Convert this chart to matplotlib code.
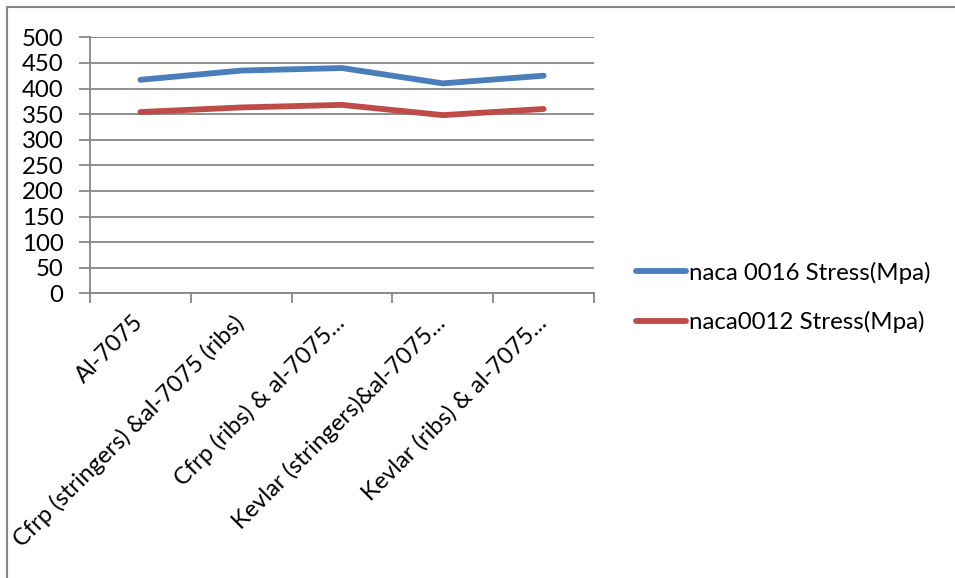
import matplotlib.pyplot as plt
from matplotlib.patches import Rectangle

# materiais e tensões (MPa)
materiais = ["Al-7075",
             "Cfrp (stringers) &al-7075 (ribs)",
             "Cfrp (ribs) & al-7075...",
             "Kevlar (stringers)&al-7075...",
             "Kevlar (ribs) & al-7075..."]
naca0016 = [417, 435, 440, 410, 425]
naca0012 = [354, 363, 368, 348, 360]

AZUL = "#4a7ebb"
VERMELHO = "#be4b48"
CINZA = "#868686"
FS = 17.3

plt.rcParams['font.family'] = ['Lato', 'DejaVu Sans']

fig = plt.figure(figsize=(9.55, 5.78), dpi=100)
W, H = 955, 578
ax = fig.add_axes([90 / W, 1 - 293.3 / H, 504 / W, 256 / H])

x = list(range(len(materiais)))
l1, = ax.plot(x, naca0016, color=AZUL, lw=4.2, solid_capstyle='round',
              label="naca 0016 Stress(Mpa)")
l2, = ax.plot(x, naca0012, color=VERMELHO, lw=4.2, solid_capstyle='round',
              label="naca0012 Stress(Mpa)")

ax.set_ylim(0, 500)
ax.set_xlim(-0.5, len(materiais) - 0.5)
ax.set_yticks(range(0, 501, 50))
ax.grid(axis='y', color=CINZA, lw=1.3)
ax.set_axisbelow(True)
for s in ['top', 'right']:
    ax.spines[s].set_visible(False)
for s in ['left', 'bottom']:
    ax.spines[s].set_color(CINZA)
    ax.spines[s].set_linewidth(1.3)
ax.tick_params(axis='y', length=8, width=1.3, color=CINZA, labelsize=FS, pad=11)

# ticks do eixo x nas divisas entre categorias
ax.set_xticks([i - 0.5 for i in range(len(materiais) + 1)])
ax.set_xticklabels([])
ax.tick_params(axis='x', length=7, width=1.3, color=CINZA)
for i, nome in enumerate(materiais):
    ax.annotate(nome, xy=(i, 0), xycoords=('data', 'axes fraction'),
                xytext=(-6, -13), textcoords='offset points',
                rotation=45, ha='right', va='top', rotation_mode='anchor',
                fontsize=17.1)

# grade horizontal até a borda direita
ax.hlines(500, -0.5, len(materiais) - 0.5, color=CINZA, lw=1.3)

fig.legend(handles=[l1, l2], loc='upper left',
           bbox_to_anchor=(614 / W, 1 - 240 / H), frameon=False,
           fontsize=FS, handlelength=2.1, handletextpad=0.12,
           labelspacing=1.15)

# moldura do gráfico
fig.patches.append(Rectangle((7 / W, -0.1), 1.2, 1 - 7.5 / H + 0.1,
                             transform=fig.transFigure, fill=False,
                             edgecolor=CINZA, lw=1.5))

fig.savefig("out.png", dpi=100)
